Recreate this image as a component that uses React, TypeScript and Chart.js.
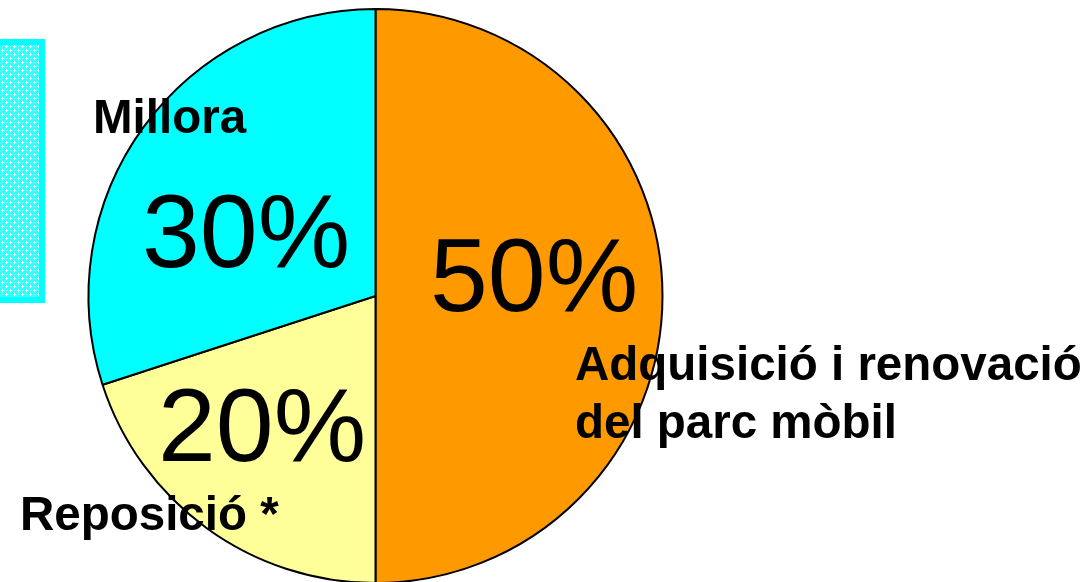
import React, { useEffect, useRef } from "react";
import { Chart, registerables } from "chart.js";

Chart.register(...registerables);

const categories = ["Adquisició i renovació del parc mòbil", "Reposició *", "Millora"];
const values = [50, 20, 30];
const colors = ["#FF9900", "#FFFF99", "#00FFFF"];
const categoryLines = [["Adquisició i renovació", "del parc mòbil"], ["Reposició *"], ["Millora"]];

const FONT = "'Liberation Sans', Arial, sans-serif";

export default function App() {
  const ref = useRef<HTMLCanvasElement | null>(null);

  useEffect(() => {
    document.body.style.margin = "0";
    const canvas = ref.current!;

    const makePattern = (ctx: CanvasRenderingContext2D) => {
      const t = document.createElement("canvas");
      t.width = 8;
      t.height = 8;
      const c = t.getContext("2d")!;
      c.fillStyle = "#33FFFF";
      c.fillRect(0, 0, 8, 8);
      c.fillStyle = "#ffffff";
      const plus = (x: number, y: number) => {
        c.fillRect(x - 1, y, 3, 1);
        c.fillRect(x, y - 1, 1, 3);
      };
      plus(2, 2);
      plus(6, 6);
      c.fillStyle = "#B0FFFF";
      [[6, 2], [2, 6]].forEach(([x, y]) => c.fillRect(x, y, 1, 1));
      return ctx.createPattern(t, "repeat")!;
    };

    const boxPlugin = {
      id: "box",
      beforeDraw(chart: any) {
        const ctx = chart.ctx as CanvasRenderingContext2D;
        ctx.save();
        ctx.fillStyle = makePattern(ctx);
        ctx.fillRect(0, 42, 42, 258);
        ctx.strokeStyle = "#00FFFF";
        ctx.lineWidth = 6;
        ctx.strokeRect(-3, 42, 45, 258);
        ctx.restore();
      },
    };

    const labelPlugin = {
      id: "labels",
      afterDraw(chart: any) {
        const ctx = chart.ctx as CanvasRenderingContext2D;
        ctx.save();
        ctx.fillStyle = "#000000";
        ctx.textBaseline = "alphabetic";
        ctx.textAlign = "left";
        ctx.font = `104px ${FONT}`;
        const pctPos = [[430, 311], [158, 461], [142, 267]];
        values.forEach((v, i) => {
          ctx.fillText(`${v}%`, pctPos[i][0], pctPos[i][1]);
        });
        ctx.font = `bold 47.5px ${FONT}`;
        const catPos = [[575, 380], [20, 530], [93, 133]];
        categoryLines.forEach((lines, i) => {
          lines.forEach((ln, j) => {
            ctx.fillText(ln, catPos[i][0], catPos[i][1] + j * 58);
          });
        });
        ctx.restore();
      },
    };

    const chart = new Chart(canvas, {
      type: "pie",
      data: {
        labels: categories,
        datasets: [
          {
            data: values,
            backgroundColor: colors,
            borderColor: "#000000",
            borderWidth: 2,
          },
        ],
      },
      options: {
        responsive: false,
        animation: false,
        radius: 287,
        layout: { padding: { left: 0, right: 340, top: 10, bottom: 0 } },
        plugins: {
          legend: { display: false },
          tooltip: { enabled: false },
        },
      } as any,
      plugins: [boxPlugin, labelPlugin],
    });

    return () => chart.destroy();
  }, []);

  return (
    <div style={{ position: "fixed", left: 0, top: 0, width: 1091, height: 582, background: "#ffffff" }}>
      <canvas ref={ref} width={1091} height={582} />
    </div>
  );
}
